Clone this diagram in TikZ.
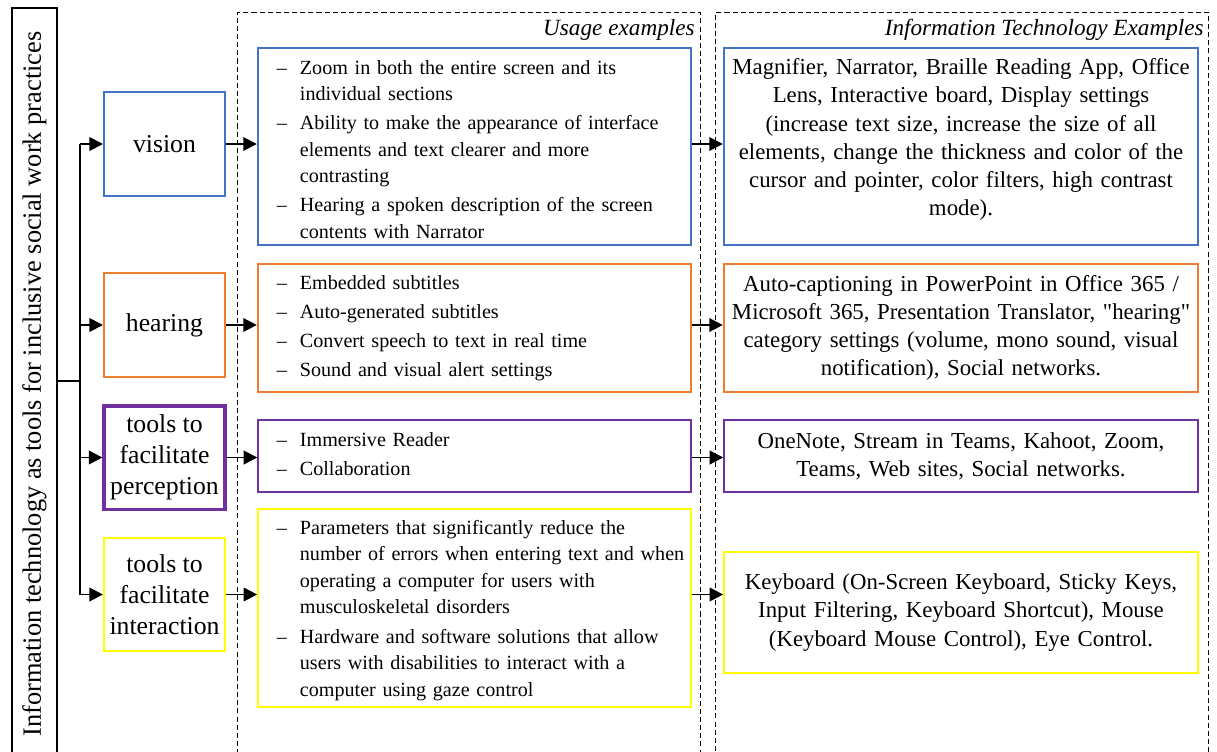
\documentclass[tikz,border=0pt]{standalone}
\usepackage{fontspec}
\setmainfont{Liberation Serif}
\usetikzlibrary{arrows.meta, positioning}

\definecolor{visblue}{HTML}{4472C4}
\definecolor{hearorange}{HTML}{ED7D31}
\definecolor{percpurple}{HTML}{7030A0}
\definecolor{interyellow}{HTML}{FFFF00}

% dashed list of usage examples, optionally lowered in its box
\newcommand{\uselist}[2][0pt]{\noindent\raisebox{-#1}[\height][\depth]{%
    \begin{tabular}{@{\hspace{9.8pt}}p{11.9pt}@{}l@{}}#2\end{tabular}}}

\begin{document}
\begin{tikzpicture}[x=0.517pt, y=-0.517pt, >={Triangle[length=7pt,width=7pt]},
    catbox/.style={draw, line width=1pt, align=center, inner sep=0pt, minimum width=62.6pt,
        font=\fontsize{13.3}{16}\selectfont},
    listbox/.style={draw, line width=1.2pt, inner sep=0pt, text width=223.9pt, align=left,
        font=\fontsize{10.4}{13.7}\selectfont},
    techbox/.style={draw, line width=1.2pt, inner sep=0pt, text width=245.1pt, align=center,
        font=\fontsize{11.8}{14.6}\selectfont},
    dashcol/.style={draw, line width=0.5pt, dash pattern=on 2.6pt off 1.6pt, inner sep=0pt,
        minimum height=397pt},
    coltitle/.style={anchor=east, inner sep=1pt, font=\fontsize{12}{14}\selectfont\itshape},
    flow/.style={->, line width=1pt}]
    \useasboundingbox (0,0) rectangle (1217,751);

    % columns
    \node[dashcol, minimum width=238.9pt] (usage_col) at (469,396) {};
    \node[dashcol, minimum width=254.4pt] (tech_col) at (962,396) {};
    \node[coltitle] (usage_title) at (697,30) {Usage examples};
    \node[coltitle] (tech_title) at (1206,30) {Information Technology Examples};

    % root
    \node[draw, line width=0.8pt, rotate=90, inner sep=0pt, minimum width=388.8pt, minimum height=23.3pt,
        font=\fontsize{13.64}{16}\selectfont] (it_main) at (34.5,384)
        {Information technology as tools for inclusive social work practices};

    % categories
    \node[catbox, draw=visblue, minimum height=53.8pt] (vision) at (164.5,144) {vision};
    \node[catbox, draw=hearorange, minimum height=53.8pt] (hearing) at (164.5,325) {hearing};
    \node[catbox, draw=percpurple, line width=1.6pt, minimum height=53.3pt] (perception) at (164.5,457.5)
        {tools to\\facilitate\\perception};
    \node[catbox, draw=interyellow, minimum height=58.4pt] (interaction) at (164.5,594.5)
        {tools to\\facilitate\\interaction};

    % usage examples
    \node[listbox, draw=visblue, minimum height=101.8pt] (vision_use) at (474.5,146.5) {\uselist[2.3pt]{
        -- & Zoom in both the entire screen and its\\
           & individual sections\\[1.3pt]
        -- & Ability to make the appearance of interface\\
           & elements and text clearer and more\\
           & contrasting\\[1.3pt]
        -- & Hearing a spoken description of the screen\\
           & contents with Narrator}};
    \node[listbox, draw=hearorange, minimum height=66.2pt] (hearing_use) at (474.5,328) {\uselist{
        -- & Embedded subtitles\\[1.3pt]
        -- & Auto-generated subtitles\\[1.3pt]
        -- & Convert speech to text in real time\\[1.3pt]
        -- & Sound and visual alert settings}};
    \node[listbox, draw=percpurple, line width=0.7pt, minimum height=37.2pt] (perception_use) at (474.5,456)
        {\uselist{
        -- & Immersive Reader\\[1.3pt]
        -- & Collaboration}};
    \node[listbox, draw=interyellow, line width=0.8pt, minimum height=102.4pt] (interaction_use) at (474.5,608)
        {\uselist[1pt]{
        -- & Parameters that significantly reduce the\\
           & number of errors when entering text and when\\
           & operating a computer for users with\\
           & musculoskeletal disorders\\[1.3pt]
        -- & Hardware and software solutions that allow\\
           & users with disabilities to interact with a\\
           & computer using gaze control}};

    % technology examples
    \node[techbox, draw=visblue, minimum height=101.8pt] (vision_tech) at (961,146.5)
        {Magnifier, Narrator, Braille Reading App, Office\\
         Lens, Interactive board, Display settings\\
         (increase text size, increase the size of all\\
         elements, change the thickness and color of the\\
         cursor and pointer, color filters, high contrast\\
         mode).\\[-5pt]\mbox{}};
    \node[techbox, draw=hearorange, minimum height=66.2pt] (hearing_tech) at (961,328)
        {Auto-captioning in PowerPoint in Office 365 /\\
         Microsoft 365, Presentation Translator, \textquotedbl hearing\textquotedbl\\
         category settings (volume, mono sound, visual\\
         notification), Social networks.};
    \node[techbox, draw=percpurple, line width=0.7pt, minimum height=37.2pt] (perception_tech) at (961,456)
        {OneNote, Stream in Teams, Kahoot, Zoom,\\
         Teams, Web sites, Social networks.};
    \node[techbox, draw=interyellow, line width=0.8pt, minimum height=62.6pt] (interaction_tech) at (961,612.5)
        {Keyboard (On-Screen Keyboard, Sticky Keys,\\
         Input Filtering, Keyboard Shortcut), Mouse\\
         (Keyboard Mouse Control), Eye Control.};

    % connectors
    \coordinate (trunk) at (80,381);
    \draw[line width=1pt] (it_main.south |- trunk) -- (trunk);
    \draw[line width=1pt] (trunk |- vision) -- (trunk |- interaction);
    \foreach \cat in {vision, hearing, perception, interaction} {
        \draw[flow] (trunk |- \cat) -- (\cat.west);
        \draw[flow] (\cat.east) -- (\cat -| \cat_use.west);
        \draw[flow] (\cat -| \cat_use.east) -- (\cat -| \cat_tech.west);
    }
\end{tikzpicture}
\end{document}
